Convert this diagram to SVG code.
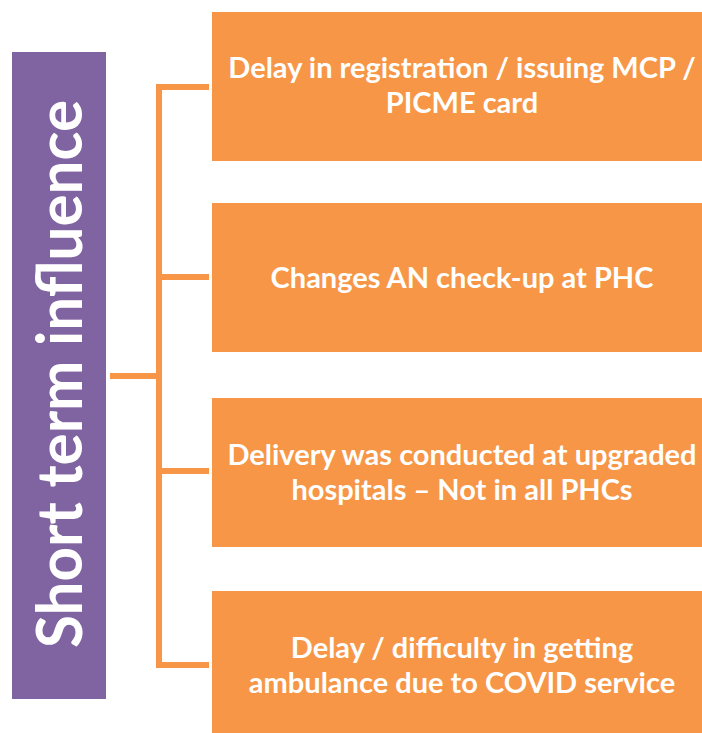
<svg xmlns="http://www.w3.org/2000/svg" width="702" height="733" viewBox="0 0 702 733">
  <style>
    .box { fill: #F79646; }
    .lbl { font-family: Lato, "Open Sans", "Liberation Sans", sans-serif; font-weight: bold; font-size: 29px; fill: #FFFFFF; text-anchor: middle; }
    .title { font-family: Lato, "Open Sans", "Liberation Sans", sans-serif; font-weight: bold; font-size: 63px; fill: #FFFFFF; text-anchor: middle; }
    .link { fill: none; stroke: #F79646; stroke-width: 6; stroke-linecap: square; stroke-linejoin: miter; }
  </style>
  <rect width="702" height="733" fill="#FFFFFF"/>

  <g id="connectors">
    <path class="link" d="M113 376 H159"/>
    <path class="link" d="M206 87 H159 V665 H206"/>
    <path class="link" d="M159 277 H206"/>
    <path class="link" d="M159 471 H206"/>
  </g>

  <g id="root">
    <rect x="12" y="52" width="94" height="647" fill="#8064A2"/>
    <text class="title" transform="translate(82,374) rotate(-90)" x="0" y="0" textLength="548" lengthAdjust="spacingAndGlyphs">Short term influence</text>
  </g>

  <g id="node1">
    <rect class="box" x="212" y="12" width="500" height="149"/>
    <text class="lbl" x="462" y="78">Delay in registration / issuing MCP /</text>
    <text class="lbl" x="462" y="113">PICME card</text>
  </g>

  <g id="node2">
    <rect class="box" x="212" y="203" width="500" height="149"/>
    <text class="lbl" x="462" y="288">Changes AN check-up at PHC</text>
  </g>

  <g id="node3">
    <rect class="box" x="212" y="398" width="500" height="149"/>
    <text class="lbl" x="462" y="465">Delivery was conducted at upgraded</text>
    <text class="lbl" x="462" y="500">hospitals – Not in all PHCs</text>
  </g>

  <g id="node4">
    <rect class="box" x="212" y="591" width="500" height="149"/>
    <text class="lbl" x="462" y="658">Delay / difficulty in getting</text>
    <text class="lbl" x="462" y="693">ambulance due to COVID service</text>
  </g>
</svg>
